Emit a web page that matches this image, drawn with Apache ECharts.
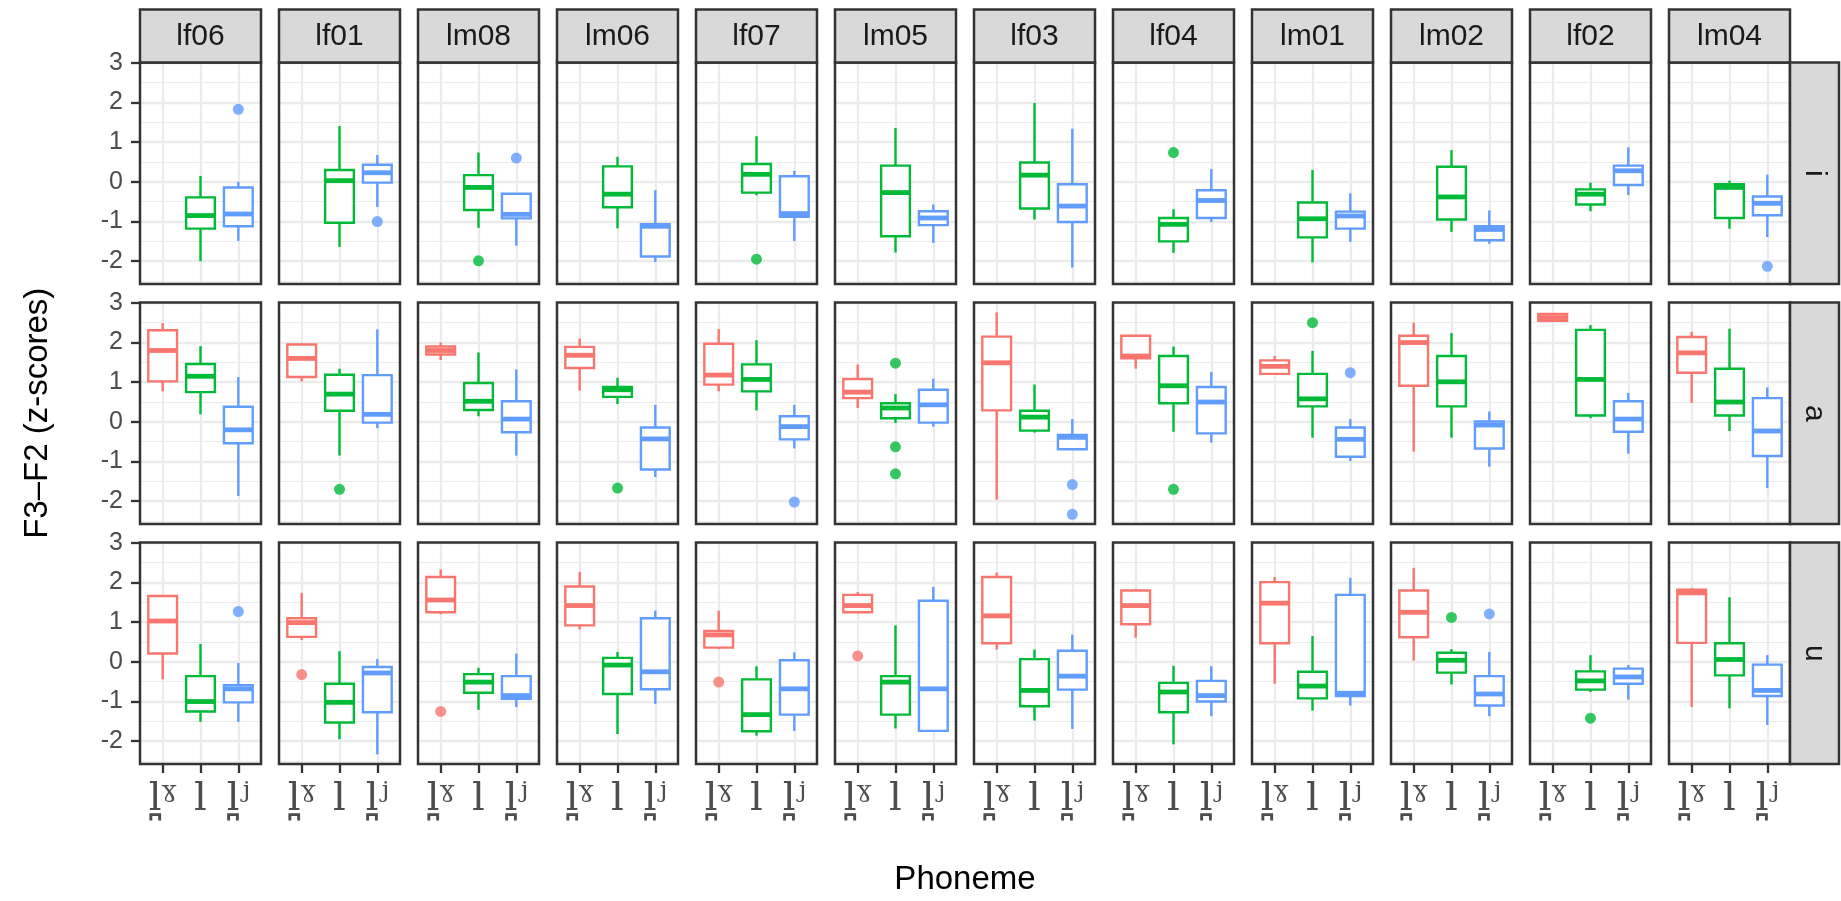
<!DOCTYPE html>
<html>
<head>
<meta charset="utf-8">
<title>F3-F2 by phoneme</title>
<script src="https://cdn.jsdelivr.net/npm/echarts@6/dist/echarts.min.js"></script>
<style>
html, body { margin: 0; padding: 0; background: #fff; }
#main { width: 1841px; height: 901px; }
</style>
</head>
<body>
<div id="main"></div>
<script>
// facets
var speakers = ['lf06', 'lf01', 'lm08', 'lm06', 'lf07', 'lm05', 'lf03', 'lf04', 'lm01', 'lm02', 'lf02', 'lm04'];
var vowels = ['i', 'a', 'u'];
var phonemes = ['l\u032A\u02E0', 'l', 'l\u032A\u02B2'];
var colours = ['#F8766D', '#00BA38', '#619CFF'];
var xTicks = [1, 2, 3];
var yTicks = [-2, -1, 0, 1, 2, 3];
var yMinorTicks = [-2.5, -1.5, -0.5, 0.5, 1.5, 2.5];

// box stats per speaker: [velarised, plain, palatalised], each [min, q1, median, q3, max]
var boxesI = [
    [null, [-2.0, -1.18, -0.85, -0.39, 0.15], [-1.49, -1.12, -0.81, -0.14, 0.0]],
    [null, [-1.64, -1.03, 0.03, 0.30, 1.41], [-0.63, -0.02, 0.23, 0.43, 0.68]],
    [null, [-1.16, -0.71, -0.14, 0.17, 0.74], [-1.61, -0.92, -0.82, -0.30, -0.30]],
    [null, [-1.17, -0.64, -0.31, 0.39, 0.63], [-2.02, -1.88, -1.12, -1.07, -0.21]],
    [null, [-0.34, -0.27, 0.19, 0.45, 1.15], [-1.49, -0.88, -0.80, 0.14, 0.28]],
    [null, [-1.78, -1.37, -0.27, 0.41, 1.36], [-1.54, -1.09, -0.91, -0.74, -0.57]],
    [null, [-0.95, -0.67, 0.17, 0.49, 1.99], [-2.16, -1.01, -0.61, -0.06, 1.34]],
    [null, [-1.79, -1.50, -1.07, -0.91, -0.69], [-1.01, -0.91, -0.47, -0.21, 0.32]],
    [null, [-2.03, -1.40, -0.93, -0.52, 0.30], [-1.51, -1.18, -0.86, -0.75, -0.29]],
    [null, [-1.26, -0.95, -0.38, 0.38, 0.80], [-1.56, -1.47, -1.20, -1.12, -0.72]],
    [null, [-0.74, -0.57, -0.31, -0.19, -0.02], [-0.33, -0.08, 0.28, 0.41, 0.87]],
    [null, [-1.18, -0.91, -0.14, -0.06, 0.03], [-1.39, -0.84, -0.54, -0.37, 0.18]]
];
var boxesA = [
    [[0.77, 1.02, 1.80, 2.31, 2.49], [0.19, 0.75, 1.15, 1.46, 1.91], [-1.87, -0.54, -0.20, 0.38, 1.13]],
    [[1.02, 1.13, 1.60, 1.95, 1.99], [-0.85, 0.28, 0.70, 1.19, 1.34], [-0.16, -0.02, 0.19, 1.18, 2.33]],
    [[1.56, 1.70, 1.80, 1.90, 2.0], [0.14, 0.30, 0.52, 0.98, 1.75], [-0.85, -0.26, 0.07, 0.52, 1.32]],
    [[0.79, 1.36, 1.68, 1.89, 2.10], [0.45, 0.63, 0.81, 0.88, 1.11], [-1.39, -1.20, -0.43, -0.14, 0.43]],
    [[0.77, 0.94, 1.18, 1.97, 2.34], [0.29, 0.77, 1.07, 1.45, 2.06], [-0.67, -0.44, -0.12, 0.14, 0.43]],
    [[0.35, 0.60, 0.75, 1.08, 1.45], [-0.03, 0.09, 0.35, 0.47, 0.70], [-0.12, -0.02, 0.43, 0.81, 1.09]],
    [[-1.96, 0.29, 1.49, 2.15, 2.76], [-0.27, -0.22, 0.12, 0.28, 0.94], [-0.69, -0.69, -0.39, -0.33, 0.07]],
    [[1.34, 1.60, 1.66, 2.17, 2.17], [-0.25, 0.47, 0.91, 1.66, 1.90], [-0.52, -0.29, 0.50, 0.88, 1.26]],
    [[1.21, 1.21, 1.40, 1.55, 1.66], [-0.40, 0.39, 0.58, 1.21, 1.79], [-0.99, -0.88, -0.44, -0.14, 0.07]],
    [[-0.75, 0.91, 2.0, 2.17, 2.50], [-0.40, 0.39, 1.01, 1.66, 2.24], [-1.13, -0.67, -0.08, 0.01, 0.26]],
    [[2.52, 2.55, 2.63, 2.72, 2.74], [0.09, 0.16, 1.07, 2.32, 2.44], [-0.80, -0.25, 0.07, 0.52, 0.73]],
    [[0.48, 1.24, 1.74, 2.14, 2.27], [-0.23, 0.16, 0.50, 1.34, 2.35], [-1.67, -0.86, -0.23, 0.60, 0.87]]
];
var boxesU = [
    [[-0.44, 0.21, 1.03, 1.66, 1.67], [-1.51, -1.25, -1.0, -0.36, 0.45], [-1.51, -1.02, -0.68, -0.59, -0.03]],
    [[0.55, 0.63, 0.99, 1.10, 1.74], [-1.95, -1.53, -1.02, -0.55, 0.27], [-2.33, -1.27, -0.28, -0.13, 0.07]],
    [[1.20, 1.25, 1.56, 2.14, 2.33], [-1.21, -0.78, -0.51, -0.31, -0.15], [-1.14, -0.93, -0.85, -0.36, 0.21]],
    [[0.82, 0.92, 1.42, 1.90, 2.27], [-1.82, -0.81, -0.08, 0.10, 0.25], [-1.06, -0.69, -0.25, 1.10, 1.29]],
    [[0.32, 0.36, 0.68, 0.78, 1.29], [-1.86, -1.75, -1.33, -0.44, -0.11], [-1.74, -1.33, -0.68, 0.04, 0.24]],
    [[1.25, 1.25, 1.42, 1.69, 1.76], [-1.68, -1.33, -0.51, -0.36, 0.92], [-1.76, -1.74, -0.68, 1.54, 1.89]],
    [[0.31, 0.47, 1.16, 2.14, 2.25], [-1.48, -1.12, -0.72, 0.07, 0.31], [-1.69, -0.70, -0.36, 0.28, 0.69]],
    [[0.61, 0.95, 1.42, 1.80, 1.84], [-2.08, -1.27, -0.76, -0.53, -0.10], [-1.37, -1.0, -0.85, -0.48, -0.11]],
    [[-0.55, 0.47, 1.48, 2.01, 2.14], [-1.23, -0.92, -0.61, -0.25, 0.65], [-1.10, -0.86, -0.79, 1.69, 2.12]],
    [[0.03, 0.62, 1.25, 1.80, 2.37], [-0.57, -0.27, 0.04, 0.23, 0.32], [-1.37, -1.10, -0.81, -0.36, 0.25]],
    [null, [-0.76, -0.70, -0.48, -0.24, 0.17], [-0.95, -0.55, -0.38, -0.17, -0.08]],
    [[-1.14, 0.48, 1.74, 1.82, 1.86], [-1.17, -0.34, 0.06, 0.47, 1.63], [-1.59, -0.86, -0.72, -0.07, 0.17]]
];

// outliers: [speaker index, phoneme index, value]
var outliersI = [[0, 2, 1.83], [1, 2, -1.0], [2, 1, -1.99], [2, 2, 0.60], [4, 1, -1.95], [7, 1, 0.74], [11, 2, -2.13]];
var outliersA = [[1, 1, -1.70], [3, 1, -1.67], [4, 2, -2.02], [5, 1, 1.48], [5, 1, -0.63], [5, 1, -1.31],
    [6, 2, -1.58], [6, 2, -2.33], [7, 1, -1.70], [8, 1, 2.50], [8, 2, 1.24]];
var outliersU = [[0, 2, 1.27], [1, 0, -0.32], [2, 0, -1.25], [4, 0, -0.51], [5, 0, 0.15], [9, 1, 1.12], [9, 2, 1.21], [10, 1, -1.42]];

var boxesByRow = [boxesI, boxesA, boxesU];
var outliersByRow = [outliersI, outliersA, outliersU];

// layout (px)
var PANEL_LEFT = 140, PANEL_W = 121, GAP_X = 18;
var PANEL_TOP = 62.5, PANEL_H = 221.5, GAP_Y = 18.5;
var STRIP_H = 53, RSTRIP_W = 49;
var Y_MIN = -2.575, Y_MAX = 3.01;
var BORDER = '#333333', GRIDLINE = '#EBEBEB', STRIP_FILL = '#D9D9D9';
var SANS = '"Liberation Sans", Arial, sans-serif';

// one boxplot glyph: whiskers, white box, thick median
function renderBox(params, api) {
    var x = api.value(0);
    var lo = api.coord([x, api.value(1)]);
    var q1 = api.coord([x, api.value(2)]);
    var md = api.coord([x, api.value(3)]);
    var q3 = api.coord([x, api.value(4)]);
    var hi = api.coord([x, api.value(5)]);
    var half = api.size([0.76, 0])[0] / 2;
    var colour = colours[api.value(6)];
    return {
        type: 'group',
        children: [
            { type: 'line', shape: { x1: lo[0], y1: lo[1], x2: q1[0], y2: q1[1] }, style: { stroke: colour, lineWidth: 2.4 } },
            { type: 'line', shape: { x1: q3[0], y1: q3[1], x2: hi[0], y2: hi[1] }, style: { stroke: colour, lineWidth: 2.4 } },
            { type: 'rect', shape: { x: q3[0] - half, y: q3[1], width: half * 2, height: q1[1] - q3[1] },
                style: { fill: '#ffffff', stroke: colour, lineWidth: 2.4 } },
            { type: 'line', shape: { x1: md[0] - half, y1: md[1], x2: md[0] + half, y2: md[1] },
                style: { stroke: colour, lineWidth: 4.8 } }
        ]
    };
}

function buildOption() {
    var grids = [], xAxes = [], yAxes = [], series = [], graphics = [];

    for (var r = 0; r < vowels.length; r++) {
        for (var c = 0; c < speakers.length; c++) {
            var g = r * speakers.length + c;
            var px = PANEL_LEFT + c * (PANEL_W + GAP_X);
            var py = PANEL_TOP + r * (PANEL_H + GAP_Y);
            var bottomRow = r === vowels.length - 1;
            var firstCol = c === 0;

            grids.push({ left: px, top: py, width: PANEL_W, height: PANEL_H, show: false });

            xAxes.push({
                gridIndex: g, type: 'value', min: 0.4, max: 3.6,
                axisLine: { show: false, onZero: false },
                axisTick: { show: bottomRow, customValues: xTicks.slice(), length: 9, lineStyle: { color: BORDER, width: 2.3 } },
                axisLabel: {
                    show: bottomRow, customValues: xTicks.slice(), margin: 16,
                    color: '#4D4D4D', fontSize: 40, fontFamily: '"DejaVu Serif", serif',
                    formatter: function (v) { return phonemes[Math.round(v) - 1] || ''; }
                },
                splitLine: { show: true, customValues: xTicks.slice(), lineStyle: { color: GRIDLINE, width: 2.3 } }
            });

            // major grid + labels
            yAxes.push({
                gridIndex: g, type: 'value', min: Y_MIN, max: Y_MAX, position: 'left',
                axisLine: { show: false, onZero: false },
                axisTick: { show: firstCol, customValues: yTicks.slice(), length: 9, lineStyle: { color: BORDER, width: 2.3 } },
                axisLabel: { show: firstCol, customValues: yTicks.slice(), margin: 17, color: '#4D4D4D', fontSize: 25, fontFamily: SANS },
                splitLine: { show: true, customValues: yTicks.slice(), lineStyle: { color: GRIDLINE, width: 2.3 } }
            });
            // minor grid only
            yAxes.push({
                gridIndex: g, type: 'value', min: Y_MIN, max: Y_MAX, position: 'right',
                axisLine: { show: false, onZero: false },
                axisTick: { show: false, customValues: yMinorTicks.slice() },
                axisLabel: { show: false, customValues: yMinorTicks.slice() },
                splitLine: { show: true, customValues: yMinorTicks.slice(), lineStyle: { color: GRIDLINE, width: 1.15 } }
            });

            var boxData = [];
            boxesByRow[r][c].forEach(function (b, p) {
                if (b) boxData.push([p + 1, b[0], b[1], b[2], b[3], b[4], p]);
            });
            series.push({
                type: 'custom', xAxisIndex: g, yAxisIndex: 2 * g, renderItem: renderBox,
                encode: { x: 0, y: [1, 2, 3, 4, 5] }, data: boxData, z: 3
            });

            var pts = [];
            var col = c;
            outliersByRow[r].forEach(function (o) {
                if (o[0] === col) pts.push({ value: [o[1] + 1, o[2]], itemStyle: { color: colours[o[1]] } });
            });
            series.push({
                type: 'scatter', xAxisIndex: g, yAxisIndex: 2 * g, symbolSize: 11, data: pts, z: 4
            });

            // panel frame
            graphics.push({
                type: 'rect', z: 100,
                shape: { x: px, y: py, width: PANEL_W, height: PANEL_H },
                style: { fill: 'none', stroke: BORDER, lineWidth: 2.5 }
            });
        }
    }

    // top strips
    speakers.forEach(function (s, c) {
        var px = PANEL_LEFT + c * (PANEL_W + GAP_X);
        graphics.push({
            type: 'rect', z: 100,
            shape: { x: px, y: PANEL_TOP - STRIP_H, width: PANEL_W, height: STRIP_H },
            style: { fill: STRIP_FILL, stroke: BORDER, lineWidth: 2.5 }
        });
        graphics.push({
            type: 'text', z: 101, x: px + PANEL_W / 2, y: PANEL_TOP - STRIP_H / 2 + 1,
            style: { text: s, fill: '#1A1A1A', font: '30px ' + SANS, align: 'center', verticalAlign: 'middle' }
        });
    });

    // right strips
    var rightEdge = PANEL_LEFT + speakers.length * (PANEL_W + GAP_X) - GAP_X;
    vowels.forEach(function (v, r) {
        var py = PANEL_TOP + r * (PANEL_H + GAP_Y);
        graphics.push({
            type: 'rect', z: 100,
            shape: { x: rightEdge, y: py, width: RSTRIP_W, height: PANEL_H },
            style: { fill: STRIP_FILL, stroke: BORDER, lineWidth: 2.5 }
        });
        graphics.push({
            type: 'text', z: 101, x: rightEdge + RSTRIP_W / 2, y: py + PANEL_H / 2, rotation: -Math.PI / 2,
            style: { text: v, fill: '#1A1A1A', font: '30px ' + SANS, align: 'center', verticalAlign: 'middle' }
        });
    });

    // axis titles
    var plotBottom = PANEL_TOP + vowels.length * (PANEL_H + GAP_Y) - GAP_Y;
    graphics.push({
        type: 'text', x: 38, y: (PANEL_TOP + plotBottom) / 2, rotation: Math.PI / 2,
        style: { text: 'F3\u2013F2 (z-scores)', fill: '#000000', font: '33px ' + SANS, align: 'center', verticalAlign: 'middle' }
    });
    graphics.push({
        type: 'text', x: (PANEL_LEFT + rightEdge) / 2, y: 880,
        style: { text: 'Phoneme', fill: '#000000', font: '33px ' + SANS, align: 'center', verticalAlign: 'middle' }
    });

    return {
        animation: false,
        backgroundColor: '#ffffff',
        grid: grids,
        xAxis: xAxes,
        yAxis: yAxes,
        series: series,
        graphic: graphics
    };
}

var chart = echarts.init(document.getElementById('main'), null, { renderer: 'canvas' });
chart.setOption(buildOption());
</script>
</body>
</html>
